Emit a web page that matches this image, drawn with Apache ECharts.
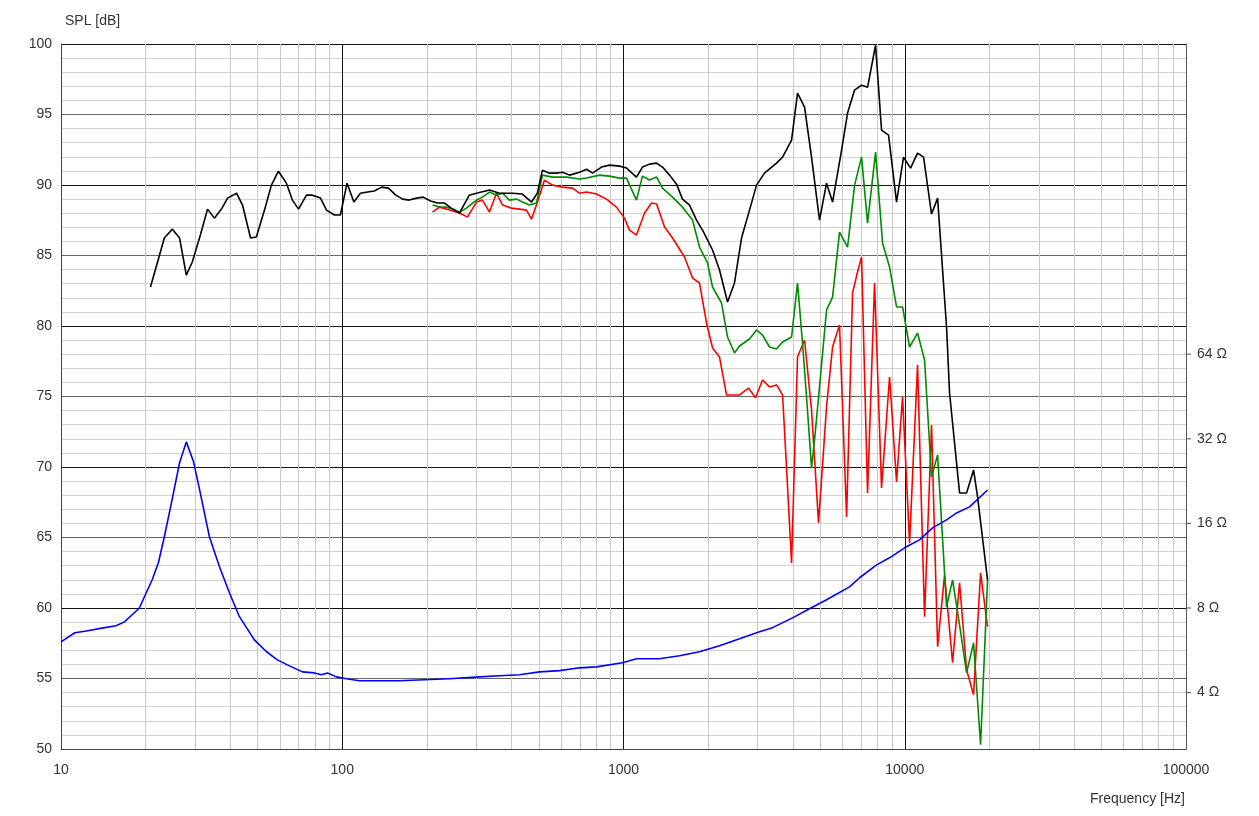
<!DOCTYPE html>
<html>
<head>
<meta charset="utf-8">
<script src="https://cdn.jsdelivr.net/npm/echarts@6/dist/echarts.min.js"></script>
<style>
html,body{margin:0;padding:0;background:#fff;}
#chart{width:1259px;height:816px;}
</style>
</head>
<body>
<div id="chart"></div>
<script>
// ---- data: [frequency Hz, value] ----
const splBlack = [[20.8,82.76],[22.0,84.47],[23.3,86.24],[24.9,86.87],[26.4,86.24],[27.9,83.61],[29.3,84.54],[31.3,86.45],[33.2,88.29],[35.1,87.65],[37.2,88.29],[39.1,89.07],[42.1,89.42],[44.2,88.58],[47.2,86.24],[49.5,86.31],[52.9,88.22],[56.0,89.99],[59.3,90.98],[63.3,90.13],[66.5,88.93],[69.9,88.29],[74.6,89.28],[78.3,89.28],[83.7,89.07],[87.9,88.22],[93.8,87.87],[98.5,87.87],[104,90.13],[110,88.79],[116,89.42],[123,89.5],[130,89.57],[138,89.85],[146,89.78],[155,89.28],[164,89.0],[173,88.93],[184,89.07],[194,89.14],[206,88.86],[218,88.72],[231,88.72],[244,88.36],[261,88.01],[283,89.28],[300,89.42],[334,89.64],[362,89.42],[403,89.42],[437,89.36],[471,88.79],[494,89.42],[515,91.05],[546,90.84],[578,90.84],[607,90.91],[643,90.7],[698,90.91],[739,91.12],[776,90.84],[835,91.27],[892,91.41],[968,91.34],[1025,91.2],[1112,90.56],[1168,91.27],[1237,91.48],[1311,91.55],[1376,91.27],[1458,90.7],[1544,90.06],[1621,89.0],[1717,88.57],[1818,87.51],[1910,86.8],[2073,85.39],[2195,83.97],[2344,81.7],[2481,83.05],[2628,86.24],[2806,88.22],[2972,89.99],[3172,90.84],[3500,91.55],[3678,91.98],[3959,93.18],[4157,96.51],[4403,95.52],[4662,91.98],[4977,87.51],[5271,90.13],[5538,88.79],[5962,92.47],[6262,95.1],[6632,96.73],[7022,97.08],[7376,96.94],[7875,99.91],[8270,93.89],[8758,93.54],[9351,88.79],[9901,91.98],[10486,91.2],[11105,92.26],[11667,91.98],[12453,87.94],[13086,89.07],[14081,79.93],[14432,75.25],[15664,68.16],[16589,68.16],[17566,69.79],[18150,67.88],[19700,61.99]];

const splGreen = [[209.5,88.58],[221.7,88.43],[234.8,88.43],[246.6,88.29],[261.2,88.08],[276.5,88.36],[300.1,88.93],[315.1,89.14],[333.8,89.5],[353.5,89.28],[371.3,89.42],[393.2,88.93],[416.5,89.0],[437.4,88.79],[463,88.58],[490.5,88.72],[515.2,90.7],[559.2,90.56],[627.1,90.56],[697.6,90.42],[738.6,90.49],[821.7,90.7],[891.8,90.63],[967.8,90.49],[1025,90.49],[1112,88.93],[1168,90.63],[1237,90.35],[1311,90.56],[1376,89.78],[1494,89.14],[1621,88.43],[1760,87.51],[1863,85.6],[1990,84.47],[2073,82.76],[2231,81.63],[2344,79.22],[2481,78.09],[2585,78.58],[2806,79.08],[2972,79.72],[3121,79.36],[3305,78.51],[3500,78.37],[3678,78.87],[3959,79.22],[4157,83.05],[4330,78.79],[4475,74.97],[4662,69.94],[4778,71.92],[4977,75.68],[5271,81.13],[5538,82.05],[5862,86.66],[6262,85.6],[6632,89.99],[7022,91.98],[7376,87.3],[7875,92.33],[8339,85.88],[8830,84.18],[9351,81.35],[9822,81.35],[10402,78.51],[11105,79.5],[11761,77.59],[12453,69.3],[13086,70.86],[14081,60.08],[14793,62.0],[15664,58.8],[16589,55.41],[17566,57.53],[18605,50.3],[19700,61.99]];

const splRed = [[209.5,88.08],[221.7,88.43],[240.5,88.22],[261.2,88.01],[278.7,87.72],[300.1,88.79],[315.1,88.93],[333.8,88.08],[353.5,89.42],[371.3,88.58],[399.7,88.36],[426.7,88.29],[451.9,88.22],[470.8,87.58],[494.5,88.79],[523.7,90.35],[559.2,89.99],[606.7,89.85],[658.5,89.78],[697.6,89.42],[738.6,89.5],[801.7,89.36],[870,89.0],[944.4,88.43],[1008,87.65],[1050,86.8],[1112,86.45],[1188,88.01],[1258,88.72],[1311,88.65],[1399,87.02],[1494,86.24],[1648,84.89],[1760,83.4],[1863,83.05],[1974,80.21],[2073,78.44],[2195,77.8],[2324,75.11],[2585,75.11],[2783,75.6],[2947,74.9],[3121,76.17],[3305,75.68],[3500,75.82],[3678,75.11],[3798,70.0],[3959,63.2],[4157,77.8],[4403,79.01],[4662,74.05],[4937,66.04],[5271,74.26],[5538,78.51],[5862,80.07],[6212,66.46],[6523,82.34],[6794,83.83],[7022,84.89],[7376,68.16],[7810,83.05],[8270,68.52],[8830,76.38],[9351,68.94],[9822,74.97],[10402,64.62],[11105,77.24],[11761,59.38],[12453,72.98],[13086,57.25],[13853,62.35],[14793,56.12],[15664,61.79],[16589,55.62],[17566,53.85],[18605,62.49],[19700,58.67]];

const impedance = [[10,6.06],[11.2,6.53],[12.3,6.63],[14.3,6.81],[15.7,6.92],[16.8,7.14],[17.9,7.57],[19.0,8.0],[19.8,8.77],[21.1,10.08],[22.2,11.59],[23.3,14.34],[24.7,18.94],[26.4,26.3],[27.9,31.2],[29.6,26.5],[31.1,21.1],[33.7,14.34],[36.6,11.21],[39.7,9.06],[43.1,7.45],[48.7,6.16],[53.8,5.59],[58.8,5.23],[64.9,4.98],[72.2,4.74],[79.6,4.7],[84.3,4.63],[88.6,4.7],[95.4,4.55],[103.5,4.48],[115.1,4.41],[159.7,4.41],[240.5,4.48],[307.5,4.55],[362.2,4.59],[426.7,4.63],[502.7,4.74],[592.3,4.79],[697.6,4.9],[801.7,4.94],[991.8,5.11],[1112,5.28],[1343,5.28],[1582,5.41],[1863,5.59],[2195,5.87],[2585,6.22],[3045,6.58],[3388,6.81],[3990,7.38],[4586,7.95],[5271,8.56],[6365,9.51],[6908,10.25],[7939,11.39],[8830,12.07],[9984,13.1],[11288,13.98],[12555,15.42],[14081,16.47],[15289,17.43],[17000,18.32],[19700,21.04]];

// ---- axis ticks ----
const freqMinorGrid = [20,30,40,50,60,70,80,90,200,300,400,500,600,700,800,900,2000,3000,4000,5000,6000,7000,8000,9000,20000,30000,40000,50000,60000,70000,80000,90000];
const impTickLabels = [4, 8, 16, 32, 64];
const impAxisMin = 2.5198;   // corresponds to 50 dB
const impAxisMax = 812.75;   // corresponds to 100 dB

const FONT = 'Liberation Sans, Arial, sans-serif';
const chart = echarts.init(document.getElementById('chart'), null, {renderer: 'canvas'});

chart.setOption({
  animation: false,
  backgroundColor: '#fff',
  textStyle: {fontFamily: FONT},
  title: [
    {text: 'SPL [dB]', left: 60, top: 9, textStyle: {fontSize: 14, fontWeight: 'normal', color: '#333', fontFamily: FONT}},
    {text: 'Frequency [Hz]', left: 1085, top: 787, textStyle: {fontSize: 14, fontWeight: 'normal', color: '#333', fontFamily: FONT}}
  ],
  grid: {left: 61, right: 73, top: 44, bottom: 67, containLabel: false},
  xAxis: {
    type: 'log', logBase: 10, min: 10, max: 100000,
    axisLine: {show: true, lineStyle: {color: '#444', width: 1}},
    axisTick: {show: false},
    axisLabel: {margin: 14, fontSize: 14, color: '#333', fontFamily: FONT,
      formatter: v => String(Math.round(v))},
    splitLine: {show: true, lineStyle: {color: '#111', width: 1}}
  },
  yAxis: [
    {
      type: 'value', min: 50, max: 100, interval: 5,
      axisLine: {show: true, lineStyle: {color: '#444'}},
      axisTick: {show: false},
      axisLabel: {margin: 9, fontSize: 14, color: '#333', fontFamily: FONT},
      splitLine: {show: true, lineStyle: {color: ['#111', '#666'], width: 1}},
      minorTick: {show: false, splitNumber: 5},
      minorSplitLine: {show: true, lineStyle: {color: '#d2d2d2', width: 1}}
    },
    {
      type: 'log', logBase: 2, min: impAxisMin, max: impAxisMax, position: 'right',
      axisLine: {show: true, lineStyle: {color: '#555'}},
      axisTick: {show: false},
      splitLine: {show: false},
      axisLabel: {
        margin: 0, fontFamily: FONT,
        formatter: function (v) {
          const r = Math.round(v);
          if (impTickLabels.indexOf(r) >= 0 && Math.abs(v - r) < 0.05) {
            return '{t| }{v|' + r + ' Ω}';
          }
          return '';
        },
        rich: {
          t: {width: 5, height: 1, backgroundColor: '#555'},
          v: {padding: [0, 0, 0, 6], fontSize: 14, color: '#333', fontFamily: FONT}
        }
      }
    }
  ],
  series: [
    {
      type: 'line', name: 'grid', data: [], silent: true, z: 1,
      markLine: {
        silent: true, symbol: 'none', z: 1, animation: false,
        label: {show: false},
        lineStyle: {color: '#c9c9c9', width: 1, type: 'solid'},
        emphasis: {disabled: true},
        data: freqMinorGrid.map(f => ({xAxis: f}))
      }
    },
    {type: 'line', name: 'red', data: splRed, showSymbol: false, symbol: 'none',
      lineStyle: {color: '#ff0000', width: 1.6}, z: 3},
    {type: 'line', name: 'green', data: splGreen, showSymbol: false, symbol: 'none',
      lineStyle: {color: '#008c00', width: 1.6}, z: 4},
    {type: 'line', name: 'black', data: splBlack, showSymbol: false, symbol: 'none',
      lineStyle: {color: '#000000', width: 1.6}, z: 5},
    {type: 'line', name: 'impedance', yAxisIndex: 1, data: impedance, showSymbol: false, symbol: 'none',
      lineStyle: {color: '#0000ff', width: 1.6}, z: 6}
  ]
});
</script>
</body>
</html>
